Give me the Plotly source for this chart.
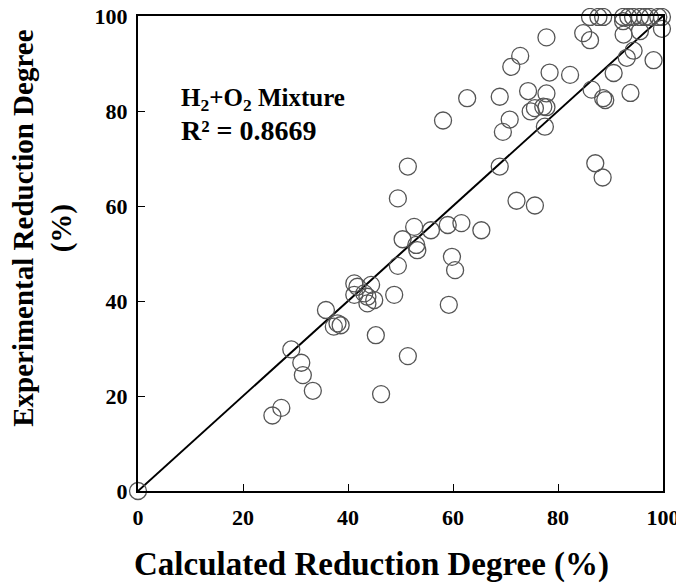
import plotly.graph_objects as go

calc = [0, 25.6, 27.3, 29.2, 31.1, 31.4, 33.3, 35.8, 37.3, 38.0, 38.6,
        41.2, 41.8, 41.2, 43.1, 44.4, 43.7, 43.7, 45.0, 45.3, 46.3, 48.8, 49.5, 49.5,
        50.4, 51.4, 51.4, 52.6, 53.0, 53.2, 55.8, 58.1, 59.0, 59.2, 59.8, 60.4, 61.6, 62.7, 65.4,
        68.9, 68.9, 69.5, 70.8, 71.1, 72.1, 72.8, 74.3, 74.8, 75.6, 75.6, 77.2, 77.5, 77.8, 77.8,
        77.8, 78.4, 82.3, 84.8, 86.1, 86.4, 87.1, 88.5, 88.6, 89.0, 90.6, 92.5, 93.1, 93.8,
        94.4, 95.6, 98.2, 99.8, 92.4,
        86.1, 87.7, 88.6, 92.4, 93.4, 94.3, 95.6, 96.6, 97.5, 99.1, 99.8]
exp = [0, 15.9, 17.5, 29.8, 27.0, 24.4, 21.1, 38.1, 34.6, 35.3, 34.9,
       43.7, 43.0, 41.3, 41.6, 43.4, 40.9, 39.5, 40.2, 32.8, 20.4, 41.3, 47.4, 61.6,
       53.0, 68.3, 28.4, 55.6, 51.8, 50.7, 54.9, 78.0, 56.0, 39.2, 49.3, 46.5, 56.4, 82.7, 54.9,
       83.0, 68.3, 75.6, 78.2, 89.3, 61.1, 91.6, 84.2, 79.9, 80.6, 60.1, 80.9, 76.7, 80.8, 83.7,
       95.5, 88.1, 87.6, 96.4, 94.9, 84.5, 69.0, 66.0, 82.7, 82.3, 88.0, 96.1, 91.2, 83.8,
       92.7, 96.8, 90.7, 97.3, 98.9,
       99.8, 99.8, 99.8, 99.8, 99.8, 99.8, 99.8, 99.8, 99.8, 99.8, 99.8]

line_x = [0, 100]
line_y = [0, 100]
x_ticks = [0, 20, 40, 60, 80, 100]
y_ticks = [0, 20, 40, 60, 80, 100]

FONT = "Liberation Serif"

fig = go.Figure()
fig.add_trace(go.Scatter(x=line_x, y=line_y, mode="lines",
                         line=dict(color="black", width=2), showlegend=False))
fig.add_trace(go.Scatter(x=calc, y=exp, mode="markers", cliponaxis=False,
                         marker=dict(symbol="circle-open", size=17,
                                     color="#555555", line=dict(width=1.3, color="#555555")),
                         showlegend=False))

fig.add_annotation(x=7.8, y=82.5, xref="x", yref="y", xanchor="left", yanchor="middle",
                   text="<b>H<sub>2</sub>+O<sub>2</sub> Mixture</b>", showarrow=False,
                   font=dict(family=FONT, size=25, color="black"))
fig.add_annotation(x=7.8, y=75.8, xref="x", yref="y", xanchor="left", yanchor="middle",
                   text="<b>R² = 0.8669</b>", showarrow=False,
                   font=dict(family=FONT, size=28, color="black"))

# axis titles (offset from plot centre as in the reference)
fig.add_annotation(x=0.444, y=-0.1537, xref="paper", yref="paper",
                   xanchor="center", yanchor="middle", showarrow=False,
                   text="<b>Calculated Reduction Degree (%)</b>",
                   font=dict(family=FONT, size=33, color="black"))
fig.add_annotation(x=-0.181, y=0.554, xref="paper", yref="paper",
                   xanchor="center", yanchor="middle", showarrow=False, textangle=-90,
                   text="<b>Experimental Reduction Degree<br>(%)</b>",
                   font=dict(family=FONT, size=29, color="black"))

axis_common = dict(range=[0, 100], showgrid=False, zeroline=False,
                   showline=True, linecolor="black", linewidth=2, mirror=True,
                   ticks="inside", ticklen=7, tickcolor="black", tickwidth=1,
                   ticklabeloverflow="allow",
                   tickfont=dict(family=FONT, size=22, color="black", weight="bold"))

fig.update_xaxes(**axis_common, tickvals=x_ticks, ticklabelstandoff=6)
fig.update_yaxes(**axis_common, tickvals=y_ticks, ticklabelstandoff=4)

fig.update_layout(width=676, height=579, plot_bgcolor="white", paper_bgcolor="white",
                  margin=dict(l=130, r=21, t=8, b=96, autoexpand=False))

fig.write_html("out.html")
